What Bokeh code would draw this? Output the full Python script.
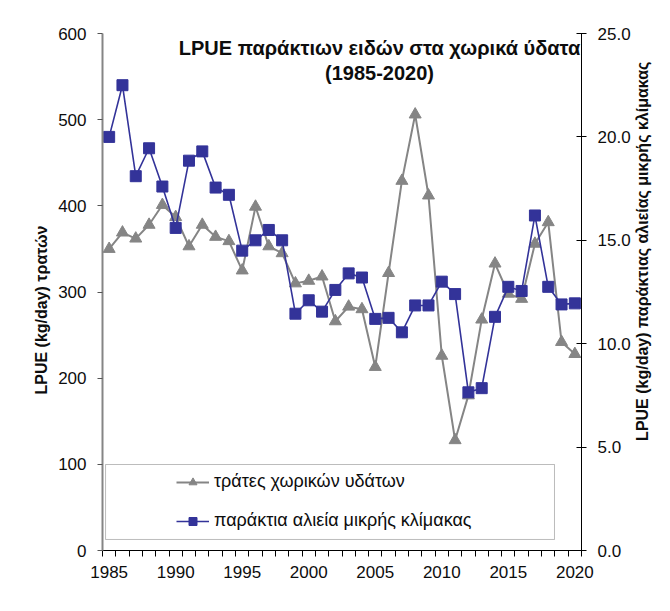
import math
from bokeh.plotting import figure
from bokeh.models import (Range1d, LinearAxis, FixedTicker, Label, Legend, LegendItem,
                          BoxAnnotation, NumeralTickFormatter)
from bokeh.embed import file_html
from bokeh.resources import INLINE

# ---------------- data ----------------
years = list(range(1985, 2021))
trawlers = [350, 369, 362, 378, 401, 387, 353, 378, 364, 359,
            325, 399, 353, 345, 310, 313, 318, 266, 283, 280,
            213, 322, 429, 506, 412, 226, 128, 180, 268, 333,
            298, 292, 356, 381, 242, 228]
coastal = [20.0, 22.5, 18.1, 19.45, 17.6, 15.6, 18.85, 19.3, 17.55, 17.2,
           14.5, 15.0, 15.5, 15.0, 11.45, 12.1, 11.55, 12.6, 13.4, 13.2,
           11.2, 11.25, 10.55, 11.85, 11.85, 13.0, 12.4, 7.65, 7.85, 11.3,
           12.75, 12.55, 16.2, 12.75, 11.9, 11.95]
label_years = [1985, 1990, 1995, 2000, 2005, 2010, 2015, 2020]
left_ticks = [0, 100, 200, 300, 400, 500, 600]
right_ticks = [0, 5, 10, 15, 20, 25]

name_trawl = "τράτες χωρικών υδάτων"
name_coastal = "παράκτια αλιεία μικρής κλίμακας"
title1 = "LPUE παράκτιων ειδών στα χωρικά ύδατα"
title2 = "(1985-2020)"
ylabel_left = "LPUE (kg/day) τρατών"
ylabel_right = "LPUE (kg/day) παράκτιας αλιείας μικρής κλίμακας"

FONT = "Liberation Sans"
GRAY = "#858585"
BLUE = "#333399"
TXT = "#0d0d0d"

p = figure(width=670, height=611, output_backend="svg", toolbar_location=None,
           x_range=Range1d(years[0] - 0.5, years[-1] + 0.5),
           y_range=Range1d(0, 600),
           min_border_left=102, min_border_right=89, min_border_top=33, min_border_bottom=61)
p.outline_line_color = None
p.xgrid.visible = False
p.ygrid.visible = False
p.extra_y_ranges = {"right": Range1d(0, 25)}

# x axis
xa = p.xaxis[0]
xa.ticker = FixedTicker(ticks=label_years,
                        minor_ticks=[y - 0.5 for y in years] + [years[-1] + 0.5])
xa.major_tick_out = 0
xa.major_tick_in = 0
xa.minor_tick_out = 6
xa.minor_tick_in = 0
xa.minor_tick_line_color = "black"
xa.axis_line_color = "black"
xa.major_label_text_font = FONT
xa.major_label_text_font_size = "17px"
xa.major_label_text_color = TXT
xa.major_label_standoff = 9

# left axis
ya = p.yaxis[0]
ya.ticker = FixedTicker(ticks=left_ticks)
ya.axis_line_color = GRAY
ya.axis_line_width = 2
ya.major_tick_out = 5
ya.major_tick_in = 0
ya.major_tick_line_color = "#555555"
ya.minor_tick_out = 0
ya.minor_tick_in = 0
ya.major_label_text_font = FONT
ya.major_label_text_font_size = "17px"
ya.major_label_text_color = TXT
ya.major_label_standoff = 11


def title_axis(range_name, pos, text, standoff):
    """A bare axis whose single tick label carries a vertical title (reads bottom-to-top)."""
    kw = {} if range_name is None else {"y_range_name": range_name}
    ax = LinearAxis(ticker=FixedTicker(ticks=[pos]), major_label_overrides={pos: text},
                    major_label_orientation=math.pi / 2, **kw)
    ax.axis_line_color = None
    ax.major_tick_line_color = None
    ax.minor_tick_line_color = None
    ax.major_tick_out = 0
    ax.major_tick_in = 0
    ax.minor_tick_out = 0
    ax.minor_tick_in = 0
    ax.major_label_standoff = standoff
    ax.major_label_text_font = FONT
    ax.major_label_text_font_size = "16px"
    ax.major_label_text_font_style = "bold"
    ax.major_label_text_color = TXT
    return ax


# left title: its upper end near the 377 level of the left scale
p.add_layout(title_axis(None, 377, ylabel_left, 14), "left")

# right axis
ra = LinearAxis(y_range_name="right", ticker=FixedTicker(ticks=right_ticks),
                formatter=NumeralTickFormatter(format="0.0"))
ra.axis_line_color = "black"
ra.major_tick_out = 5
ra.major_tick_in = 5
ra.major_tick_line_color = "black"
ra.minor_tick_out = 0
ra.minor_tick_in = 0
ra.major_label_text_font = FONT
ra.major_label_text_font_size = "17px"
ra.major_label_text_color = TXT
ra.major_label_standoff = 11
p.add_layout(ra, "right")

# right title: starts near the 5.3 level of the right scale
p.add_layout(title_axis("right", 5.3, ylabel_right, 9), "right")

# series
l1 = p.line(years, trawlers, line_color=GRAY, line_width=2)
s1 = p.scatter(years, trawlers, marker="triangle", size=12, fill_color=GRAY, line_color=GRAY)
l2 = p.line(years, coastal, line_color=BLUE, line_width=1.6, y_range_name="right")
s2 = p.scatter(years, coastal, marker="square", size=11, fill_color=BLUE, line_color=BLUE,
               y_range_name="right")

# legend box + legend
box = BoxAnnotation(left=1984.73, right=2018.47, bottom=12.8, top=99.8,
                    fill_color="white", fill_alpha=1.0, line_color="#222222", line_width=1)
p.add_layout(box)
legend = Legend(items=[LegendItem(label=name_trawl, renderers=[l1, s1]),
                       LegendItem(label=name_coastal, renderers=[l2, s2])],
                location=(74, 19), padding=0, margin=0, spacing=18,
                glyph_width=33, glyph_height=20, label_height=20, label_standoff=5,
                border_line_alpha=0, background_fill_alpha=0,
                label_text_font=FONT, label_text_font_size="18px", label_text_color=TXT)
p.add_layout(legend)

# title inside the plot area
p.add_layout(Label(x=277, y=503, x_units="screen", y_units="screen", text=title1,
                   text_align="center", text_baseline="middle", text_font=FONT,
                   text_font_size="20px", text_font_style="bold", text_color=TXT))
p.add_layout(Label(x=277, y=478, x_units="screen", y_units="screen", text=title2,
                   text_align="center", text_baseline="middle", text_font=FONT,
                   text_font_size="20px", text_font_style="bold", text_color=TXT))

open("out.html", "w").write(file_html(p, INLINE))
